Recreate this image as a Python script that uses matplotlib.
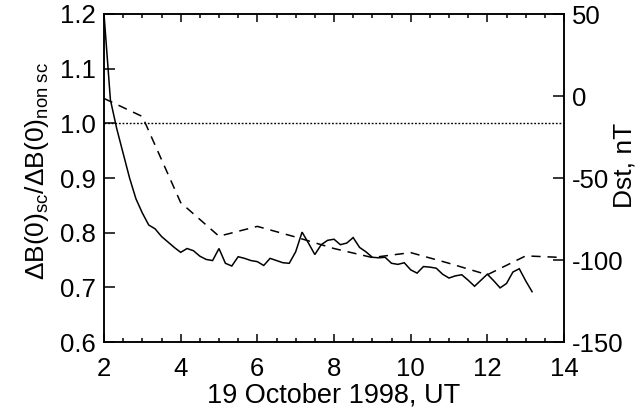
import matplotlib
matplotlib.use('Agg')
import matplotlib.pyplot as plt
from matplotlib.ticker import MultipleLocator

plt.rcParams['font.family'] = ['Liberation Sans', 'DejaVu Sans']
plt.rcParams['mathtext.fontset'] = 'custom'
plt.rcParams['mathtext.rm'] = 'Liberation Sans'
plt.rcParams['mathtext.it'] = 'Liberation Sans'
plt.rcParams['mathtext.default'] = 'regular'
plt.rcParams['axes.unicode_minus'] = False

# --- Data -------------------------------------------------------------------------------------------------------------
# ratio dB(0)sc / dB(0)non sc, 10-min samples from 02:00 UT
ratio_t = [2.0, 2.167, 2.333, 2.5, 2.667, 2.833, 3.0, 3.167, 3.333, 3.5, 3.667, 3.833,
           4.0, 4.167, 4.333, 4.5, 4.667, 4.833, 5.0, 5.167, 5.333, 5.5, 5.667, 5.833,
           6.0, 6.167, 6.333, 6.5, 6.667, 6.833, 7.0, 7.167, 7.333, 7.5, 7.667, 7.833,
           8.0, 8.167, 8.333, 8.5, 8.667, 8.833, 9.0, 9.167, 9.333, 9.5, 9.667, 9.833,
           10.0, 10.167, 10.333, 10.5, 10.667, 10.833, 11.0, 11.167, 11.333, 11.5, 11.667, 11.833,
           12.0, 12.167, 12.333, 12.5, 12.667, 12.833, 13.0, 13.167]
ratio = [1.20, 1.043, 0.99, 0.945, 0.90, 0.862, 0.836, 0.814, 0.807, 0.793, 0.783, 0.773,
         0.764, 0.771, 0.767, 0.757, 0.751, 0.749, 0.771, 0.744, 0.739, 0.756, 0.753, 0.749,
         0.747, 0.740, 0.753, 0.749, 0.745, 0.744, 0.765, 0.801, 0.781, 0.760, 0.778, 0.786,
         0.788, 0.778, 0.781, 0.791, 0.773, 0.765, 0.755, 0.754, 0.755, 0.744, 0.742, 0.745,
         0.732, 0.726, 0.738, 0.737, 0.735, 0.724, 0.717, 0.721, 0.723, 0.713, 0.702, 0.713,
         0.724, 0.712, 0.699, 0.707, 0.728, 0.734, 0.712, 0.692]

# hourly Dst, nT
dst_t = [2, 3, 4, 5, 6, 7, 8, 9, 10, 11, 12, 13, 14]
dst = [-1.5, -12.5, -65, -85.5, -79.5, -86, -93, -98.5, -95.5, -102, -109, -97.5, -98.5]

# --- Plot -------------------------------------------------------------------------------------------------------------
fig = plt.figure(figsize=(6.42, 4.15), dpi=100)
ax = fig.add_axes([104 / 642, 1 - 342 / 415, 460 / 642, 328 / 415])
ax2 = ax.twinx()

ax.plot(ratio_t, ratio, color='black', lw=1.1, solid_joinstyle='miter')
ax.axhline(1.0, color='black', lw=1.0, linestyle=(0, (1.3, 1.3)))
ax2.plot(dst_t, dst, color='black', lw=1.1, linestyle=(0, (6, 4.5)))

ax.set_xlim(2, 14)
ax.set_ylim(0.6, 1.2)
ax2.set_ylim(-150, 50)

ax.xaxis.set_major_locator(MultipleLocator(2))
ax.xaxis.set_minor_locator(MultipleLocator(0.5))
ax.yaxis.set_major_locator(MultipleLocator(0.1))
ax2.yaxis.set_major_locator(MultipleLocator(50))
ax.yaxis.set_major_formatter(plt.FormatStrFormatter('%.1f'))

ax.tick_params(axis='x', which='major', direction='in', top=True, length=6, width=1.1,
               labelsize=18.5, pad=11)
ax.tick_params(axis='x', which='minor', direction='in', top=True, length=3, width=1.1)
ax.tick_params(axis='y', which='major', direction='in', right=False, length=8, width=1.1,
               labelsize=18.5, pad=6)
ax2.tick_params(axis='y', which='major', direction='in', length=8, width=1.1,
                labelsize=18.5, pad=6)

for a in (ax, ax2):
    for s in a.spines.values():
        s.set_linewidth(1.1)

ax.set_xlabel('19 October 1998, UT', fontsize=19.5, labelpad=1)
ax.set_ylabel(r'$\Delta$B(0)$_{sc}$/$\Delta$B(0)$_{non\ sc}$', fontsize=19)
ax2.set_ylabel('Dst, nT', fontsize=19)
ax.yaxis.set_label_coords(-0.115, 0.52)
ax2.yaxis.set_label_coords(1.105, 0.54)

fig.savefig('out.png', dpi=100)
